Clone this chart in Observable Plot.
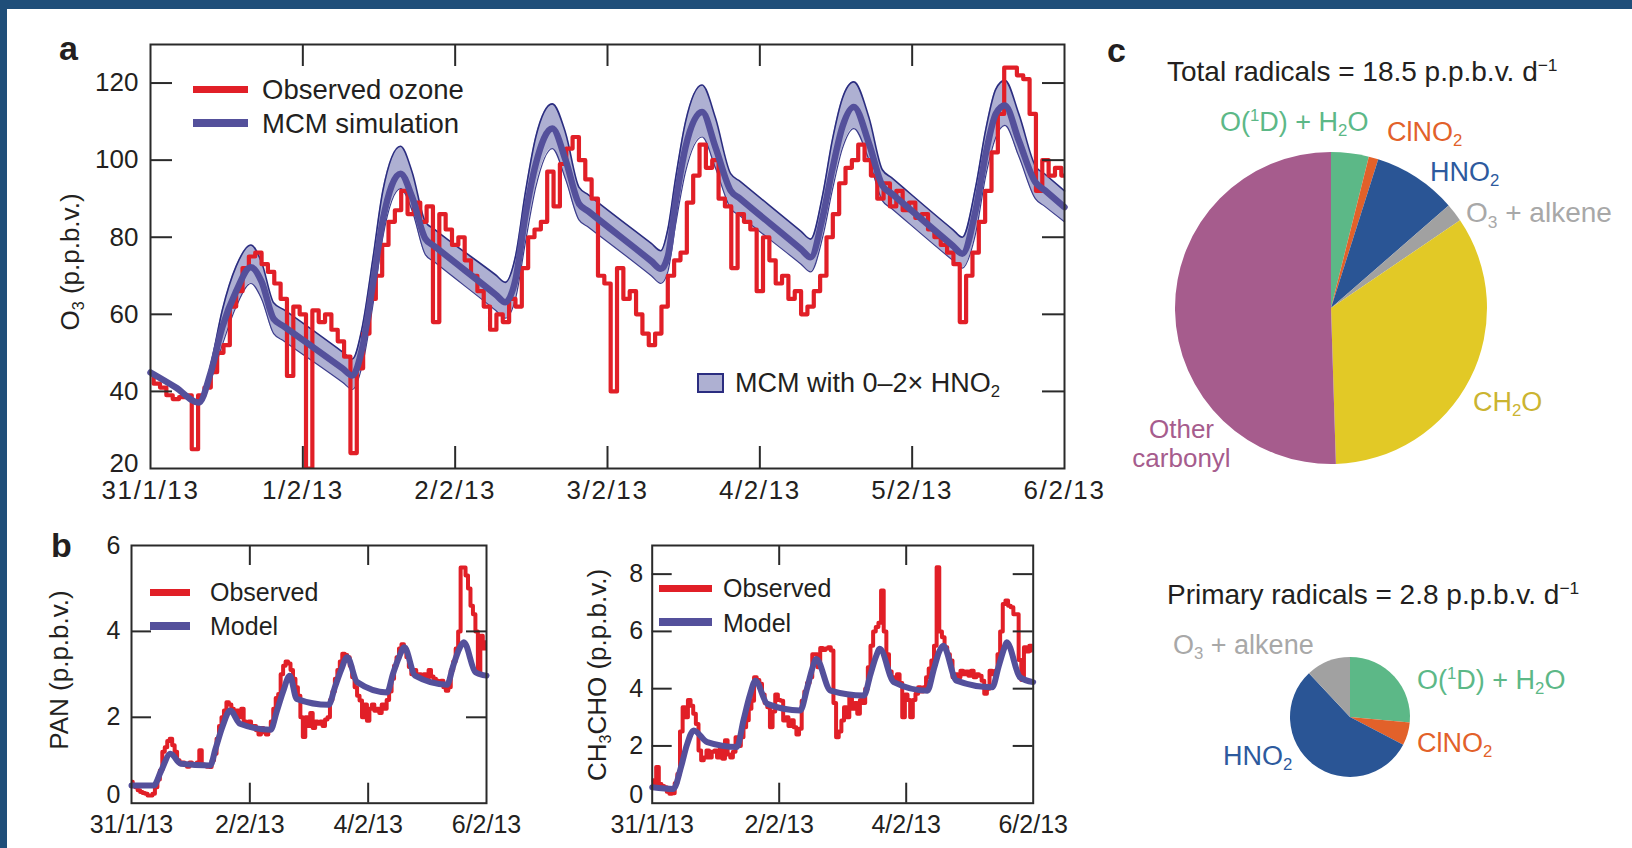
<!DOCTYPE html>
<html><head><meta charset="utf-8">
<script src="https://cdn.jsdelivr.net/npm/d3@7"></script>
<script src="https://cdn.jsdelivr.net/npm/@observablehq/plot@0.6"></script>
<style>
html,body{margin:0;padding:0;background:#fff;}
#fig{position:relative;width:1632px;height:848px;overflow:hidden;background:#fff;font-family:"Liberation Sans",Arial,Helvetica,sans-serif;color:#231f20;}
.lbl{position:absolute;white-space:nowrap;line-height:1;}
.lbl sub,.lbl sup{font-size:0.62em;position:relative;vertical-align:baseline;line-height:0;}
.lbl sub{top:0.3em;}
.lbl sup{top:-0.6em;}
.box{position:absolute;}
</style></head><body><div id="fig"></div><script>
// ---------------- DATA ----------------
// Panel a: x in hours since 31/1/13 00:00
const xTicksA = [0, 24, 48, 72, 96, 120, 144];
const xLabelsA = ["31/1/13", "1/2/13", "2/2/13", "3/2/13", "4/2/13", "5/2/13", "6/2/13"];
const yTicksA = [20, 40, 60, 80, 100, 120];

// Observed ozone, hourly (p.p.b.v.)
const obsO3 = [44.5,42,41,39,38,38.5,39,25,39,41,
  45,50,52,62,66,72,75,76,73,71,
  68,64,44,62,60,20,61,58,60,56,
  53,49,24,46,55,64,70,78,84,87,
  92,86,89,84,88,58,86,82,78,80,
  74,70,66,62,56,60,58,64,62,72,
  80,82,84,97,88,99,103,106,100,95,
  90,70,68,40,72,64,66,60,55,52,
  55,62,70,74,76,89,96,104,98,100,
  90,88,72,86,84,82,66,80,74,68,
  70,64,66,60,62,66,70,80,86,94,
  98,100,104,100,96,90,94,88,92,87,
  89,85,86,82,80,78,76,73,58,70,
  76,84,92,102,112,124,124,122,121,112,
  92,100,96,98,96];

// MCM simulation (central) and 0-2x HNO2 envelope
const mcmTimes = [0,4,7.6,9.5,11.3,13.5,15.8,17.5,19.4,21,30.3,31.8,33.4,35,36.6,39.4,41.2,43.3,44.8,54.4,55.9,57.5,59.1,60.7,63.3,65.4,67.5,69,78.9,80.4,81.5,82.7,84.3,86.9,89,91.4,92.9,102.5,104,105.9,107.4,109,110.8,113.2,115.3,116.8,126.4,127.9,130,131.6,133.2,134.6,136.8,139.4,140.9,144];
const mcmO3   = [44.9,41,37.1,45,56.6,66,72.2,68.5,58.8,56.9,45.9,44.1,51.6,67.5,84.5,96.5,90.5,79.6,77.6,65.1,63.1,69,86,99,108.2,100,88.7,86.7,73.8,71.8,75,88.7,103.4,112.5,103.4,92.1,90.0,76.9,74.8,85.2,97.4,108.6,113.8,104.3,93.4,91.3,77.8,75.7,87,101.7,112.1,114.2,105.1,94.3,92.2,87.8];
const mcmHigh = [44.9,41,37.1,47,61,72.5,78,73.5,63,61.2,50.2,48.4,57,74,92,103.6,97,84,82,70.2,68.3,75,92,106,114.6,107,93,91,78.4,76.5,82,95,110,119.5,111,96.5,94.5,81.5,79.5,91,105,116,120.3,111,97.5,95.4,82,80,93,108,118.5,120.7,112,98.5,96.4,92];
const mcmLow  = [44.9,41,37.1,43,52,62,68,64,55,53.1,42.3,40.5,47,62,80,92.6,87,75.5,73.5,61,59,64,79,93,103,95,84.5,82.6,70,68,71,83,97,106,98,87.5,85.5,73,71,80,92,103,108.2,100,89.5,87.4,74,72,81,96,106,109,101,90,88,84];

// Panel b
const xTicksB = [0, 48, 96, 144];
const xLabelsB = ["31/1/13", "2/2/13", "4/2/13", "6/2/13"];
const yTicksPAN = [0, 2, 4, 6];
const yTicksAcet = [0, 2, 4, 6, 8];

const obsPAN = [0.5,0.42,0.37,0.3,0.26,0.24,0.22,0.18,0.18,0.22,
  0.37,0.55,0.76,1.2,1.3,1.45,1.5,1.35,1.2,1.0,
  0.92,0.95,0.9,0.85,0.95,0.9,0.88,0.95,1.23,0.9,
  0.88,0.85,0.84,1.0,1.15,1.5,1.8,2.0,2.16,2.35,
  2.3,2.2,2.1,2.16,2.0,2.2,1.9,1.85,1.9,1.75,
  1.8,1.7,1.6,1.75,1.65,1.6,1.7,1.9,2.2,2.45,
  2.54,3.0,3.2,3.3,3.25,3.1,2.9,2.7,2.5,2.0,
  1.54,2.0,1.8,2.1,1.75,1.9,1.85,1.9,1.8,1.95,
  2.0,2.4,2.6,2.9,3.1,3.3,3.48,3.45,3.4,3.2,
  2.93,2.7,2.5,2.39,2.0,2.3,1.92,2.2,2.3,2.15,
  2.2,2.1,2.3,2.2,2.4,2.6,2.9,3.2,3.4,3.6,
  3.7,3.6,3.4,3.17,3.0,3.1,2.95,3.0,2.93,3.0,
  2.9,3.1,2.95,2.9,2.85,2.8,2.85,2.7,2.62,2.7,
  3.1,3.3,3.6,4.0,5.49,5.49,5.3,5.0,4.6,4.4,
  4.0,3.0,3.9,3.6,3.75];
const modelPANTimes = [0,9,12,15.8,20,32,34,37,40,44,56.4,59,61.5,64.2,67,80,82.5,85,87.5,91.5,103.7,106,108.5,110.7,115,128,130.5,133,134.8,139.5,144];
const modelPAN = [0.41,0.41,0.75,1.15,0.92,0.88,1.25,1.8,2.16,1.85,1.71,2.15,2.6,2.97,2.43,2.29,2.7,3.1,3.4,2.82,2.58,3.0,3.4,3.63,2.97,2.76,3.2,3.6,3.75,3.05,2.97];

const obsAcet = [0.8,0.7,1.26,0.67,0.6,0.56,0.4,0.33,0.35,0.7,
  1.02,2.5,3.35,3.0,3.6,3.4,3.12,2.77,1.84,1.5,
  1.6,1.84,1.6,1.8,1.84,1.6,1.9,1.55,2.2,1.7,
  1.6,1.8,2.3,2.0,2.3,2.65,2.9,3.3,3.58,4.4,
  4.3,4.17,3.8,3.5,3.35,2.65,3.2,3.8,3.6,3.58,
  2.89,3.0,2.7,2.9,2.65,2.4,2.6,3.58,3.9,4.2,
  4.4,5.2,5.2,4.75,5.42,5.35,5.4,5.45,5.33,3.5,
  2.3,2.5,2.89,3.35,3.0,3.8,3.3,3.5,3.12,3.6,
  3.5,4.0,4.75,5.5,6.0,6.15,6.3,7.43,6.0,5.2,
  4.6,4.4,4.2,4.5,4.2,3.0,3.8,3.6,3.0,3.6,
  3.82,4.05,3.9,4.05,4.4,4.7,4.98,5.5,8.24,6.0,
  5.8,5.45,5.2,4.98,4.4,4.5,4.4,4.63,4.5,4.6,
  4.45,4.63,4.4,4.5,4.45,4.28,3.82,4.0,4.63,4.5,
  4.63,5.2,6.0,6.96,7.08,6.9,6.84,6.6,6.6,5.0,
  4.3,5.45,5.3,5.5,5.33];
const modelAcetTimes = [0,8,11,13,15.7,20.8,32,34.5,37,39,43.5,56,58.5,60.5,62,67.4,80,82.5,84.5,86,91.3,104,106.5,108.5,110,115,128.5,131,133,134,139,144];
const modelAcet = [0.56,0.5,1.3,2.0,2.54,2.13,1.96,2.9,3.8,4.28,3.47,3.24,4.0,4.7,5.04,3.93,3.76,4.5,5.1,5.39,4.23,3.93,4.7,5.3,5.5,4.28,4.05,4.8,5.4,5.62,4.4,4.23];

// Panel c (% of radical production, clockwise from 12 o'clock)
const totalSources = ["O(1D) + H2O", "ClNO2", "HNO2", "O3 + alkene", "CH2O", "Other carbonyl"];
const totalShares  = [3.9, 1.0, 8.7, 1.9, 34.0, 50.5];
const totalColors  = ["#5cb887", "#e2612a", "#2a5595", "#a1a1a1", "#e2c926", "#a65c8d"];
const primarySources = ["O(1D) + H2O", "ClNO2", "HNO2", "O3 + alkene"];
const primaryShares  = [26.5, 6.2, 55.4, 12.0];
const primaryColors  = ["#5cb887", "#e2612a", "#2a5595", "#a1a1a1"];

// ---------------- STYLE ----------------
const FONT = '"Liberation Sans", Arial, Helvetica, sans-serif';
const INK = "#231f20";
const AXIS = "#2a2a2a";
const RED = "#e11f27";
const BLUE = "#54509b";
const BAND = "#aeb0d2";
const NAVY = "#2b2d80";
const fig = document.getElementById("fig");

function box(left, top, w, h, bg, border) {
  const d = document.createElement("div");
  d.className = "box";
  Object.assign(d.style, {left: left + "px", top: top + "px", width: w + "px", height: h + "px", background: bg, boxSizing: "border-box"});
  if (border) d.style.border = border;
  fig.appendChild(d);
}
// places text so that its first baseline lies at `baseline`
function label(html, x, baseline, size, color = INK, anchor = "start", weight = "normal", lineHeight = size) {
  const d = document.createElement("div");
  d.className = "lbl";
  d.innerHTML = html;
  const top = baseline - ((lineHeight - 1.117 * size) / 2 + 0.905 * size);
  Object.assign(d.style, {left: x + "px", top: top + "px", fontSize: size + "px", lineHeight: lineHeight + "px", color, fontWeight: weight});
  if (anchor === "middle") { d.style.transform = "translateX(-50%)"; d.style.textAlign = "center"; }
  if (anchor === "end") { d.style.transform = "translateX(-100%)"; d.style.textAlign = "right"; }
  fig.appendChild(d);
}
function vlabel(html, cx, cy, size) {
  const d = document.createElement("div");
  d.className = "lbl";
  d.innerHTML = html;
  Object.assign(d.style, {left: cx + "px", top: cy + "px", fontSize: size + "px", color: INK, transform: "translate(-50%,-50%) rotate(-90deg)"});
  fig.appendChild(d);
}

// blue frame of the figure
box(0, 0, 1632, 9, "#1f4e79");
box(0, 0, 7, 848, "#1f4e79");

function seriesPlot(o) {
  const fw = o.width - o.ml - o.mr, fh = o.height - o.mt - o.mb;
  const ts = {stroke: AXIS, strokeWidth: 2};
  const p = Plot.plot({
    width: o.width, height: o.height,
    marginTop: o.mt, marginRight: o.mr, marginBottom: o.mb, marginLeft: o.ml,
    style: {fontFamily: FONT, fontSize: o.fontSize + "px", color: INK, background: "transparent", overflow: "visible"},
    x: {domain: [0, 144], ticks: o.xTicks, tickFormat: d => o.xLabels[o.xTicks.indexOf(d)], tickSize: 0, tickPadding: o.padX, label: null},
    y: {domain: o.yDomain, ticks: o.yTicks, tickFormat: d => String(d), tickSize: 0, tickPadding: o.padY, label: null},
    marks: [
      ...o.marks,
      Plot.tickX(o.innerX, {x: d => d, insetTop: fh - o.tickLen, ...ts}),
      Plot.tickX(o.innerX, {x: d => d, insetBottom: fh - o.tickLen, ...ts}),
      Plot.tickY(o.innerY, {y: d => d, insetRight: fw - o.tickLen, ...ts}),
      Plot.tickY(o.innerY, {y: d => d, insetLeft: fw - o.tickLen, ...ts}),
      Plot.frame({stroke: AXIS, strokeWidth: 2})
    ]
  });
  if (o.xSpacing) {
    p.querySelectorAll('[aria-label^="x-axis"] text').forEach(t => { t.style.letterSpacing = o.xSpacing + "px"; });
  }
  // the lowest y tick label sits slightly raised, as in the original figure
  const bottomLabel = String(o.yDomain[0]);
  p.querySelectorAll('[aria-label^="y-axis"] text').forEach(t => {
    if (t.textContent !== bottomLabel) return;
    const cur = t.getAttribute("dy");
    if (cur && cur.includes("em")) t.setAttribute("dy", String(parseFloat(cur) * o.fontSize - o.raise));
    else t.setAttribute("dy", String((parseFloat(cur) || 0) - o.raise));
  });
  Object.assign(p.style, {position: "absolute", left: o.left + "px", top: o.top + "px"});
  fig.appendChild(p);
}

// ---------------- PANEL a ----------------
const o3Obs = obsO3.map((v, i) => ({t: i, v}));
const o3Mcm = mcmTimes.map((t, i) => ({t, v: mcmO3[i], hi: mcmHigh[i], lo: mcmLow[i]}));
seriesPlot({
  left: 0, top: 0, width: 1100, height: 520, mt: 44, mr: 36, mb: 52, ml: 150,
  yDomain: [20, 130], xTicks: xTicksA, xLabels: xLabelsA, yTicks: yTicksA,
  innerX: [24, 48, 72, 96, 120], innerY: [40, 60, 80, 100, 120], tickLen: 22,
  fontSize: 26, xSpacing: 1.6, padX: 12, padY: 12, raise: 5,
  marks: [
    Plot.areaY(o3Mcm, {x: "t", y1: "lo", y2: "hi", fill: BAND, curve: "monotone-x"}),
    Plot.line(o3Mcm, {x: "t", y: "hi", stroke: NAVY, strokeWidth: 1.6, curve: "monotone-x"}),
    Plot.line(o3Mcm, {x: "t", y: "lo", stroke: "#3c3d8c", strokeWidth: 1.2, curve: "monotone-x"}),
    Plot.line(o3Obs, {x: "t", y: "v", stroke: RED, strokeWidth: 4.2, curve: "step", clip: true}),
    Plot.line(o3Mcm, {x: "t", y: "v", stroke: BLUE, strokeWidth: 6.5, curve: "monotone-x"})
  ]
});
label("a", 59, 60, 34, INK, "start", "bold");
vlabel("O<sub>3</sub> (p.p.b.v.)", 70, 262, 26);
box(193, 85.5, 55, 7, RED);
box(193, 119, 55, 8, BLUE);
label("Observed ozone", 262, 99, 27.5);
label("MCM simulation", 262, 133, 27.5);
box(697, 373, 27, 20, BAND, "2px solid " + NAVY);
label("MCM with 0–2× HNO<sub>2</sub>", 735, 393, 27);

// ---------------- PANEL b ----------------
seriesPlot({
  left: 0, top: 500, width: 520, height: 348, mt: 45, mr: 34, mb: 45.3, ml: 131,
  yDomain: [0, 6], xTicks: xTicksB, xLabels: xLabelsB, yTicks: yTicksPAN,
  innerX: [48, 96], innerY: [2, 4], tickLen: 20,
  fontSize: 25, padX: 12, padY: 11, raise: 8,
  marks: [
    Plot.line(obsPAN.map((v, i) => ({t: i, v})), {x: "t", y: "v", stroke: RED, strokeWidth: 4, curve: "step", clip: true}),
    Plot.line(modelPANTimes.map((t, i) => ({t, v: modelPAN[i]})), {x: "t", y: "v", stroke: BLUE, strokeWidth: 6, curve: "monotone-x"})
  ]
});
seriesPlot({
  left: 540, top: 500, width: 520, height: 348, mt: 45, mr: 27.3, mb: 45.3, ml: 111.7,
  yDomain: [0, 9], xTicks: xTicksB, xLabels: xLabelsB, yTicks: yTicksAcet,
  innerX: [48, 96], innerY: [2, 4, 6, 8], tickLen: 20,
  fontSize: 25, padX: 12, padY: 9, raise: 8,
  marks: [
    Plot.line(obsAcet.map((v, i) => ({t: i, v})), {x: "t", y: "v", stroke: RED, strokeWidth: 4, curve: "step", clip: true}),
    Plot.line(modelAcetTimes.map((t, i) => ({t, v: modelAcet[i]})), {x: "t", y: "v", stroke: BLUE, strokeWidth: 6, curve: "monotone-x"})
  ]
});
label("b", 51, 557, 34, INK, "start", "bold");
vlabel("PAN (p.p.b.v.)", 58.5, 670, 26);
vlabel("CH<sub>3</sub>CHO (p.p.b.v.)", 597, 675, 26);
box(150, 588.5, 40, 7, RED);
box(150, 622, 40, 8, BLUE);
label("Observed", 210, 601, 25);
label("Model", 210, 635, 25);
box(659, 584.5, 53, 7, RED);
box(659, 617.7, 53, 8, BLUE);
label("Observed", 723, 597, 25);
label("Model", 723, 632, 25);

// ---------------- PANEL c ----------------
function piePlot(left, top, size, shares, colors) {
  const m = 5;
  const p = Plot.plot({
    width: size, height: size, margin: m,
    x: {domain: [-1, 1], axis: null}, y: {domain: [-1, 1], axis: null},
    style: {background: "transparent", overflow: "visible"},
    marks: [
      Plot.dot([[-1, -1], [1, 1]], {x: d => d[0], y: d => d[1], r: 0}),
      (index, scales) => {
        const cx = scales.x(0), cy = scales.y(0), r = scales.x(1) - scales.x(0);
        const arcs = d3.pie().sort(null).value(d => d)(shares);
        const arc = d3.arc().innerRadius(0).outerRadius(r);
        const g = d3.create("svg:g").attr("transform", `translate(${cx},${cy})`);
        g.selectAll("path").data(arcs).join("path").attr("d", arc).attr("fill", (d, i) => colors[i]);
        return g.node();
      }
    ]
  });
  Object.assign(p.style, {position: "absolute", left: left + "px", top: top + "px"});
  fig.appendChild(p);
}
piePlot(1170, 147.3, 322, totalShares, totalColors);
piePlot(1285, 651.7, 130, primaryShares, primaryColors);

label("c", 1107, 62, 34, INK, "start", "bold");
label("Total radicals = 18.5 p.p.b.v. d<sup>−1</sup>", 1167, 82, 28);
label("O(<sup>1</sup>D) + H<sub>2</sub>O", 1220, 132, 27, "#5cb887");
label("ClNO<sub>2</sub>", 1387, 142, 27, "#e2612a");
label("HNO<sub>2</sub>", 1430, 182, 27, "#2d5a9e");
label("O<sub>3</sub> + alkene", 1466, 223, 28, "#a8a8a8");
label("CH<sub>2</sub>O", 1473, 412, 27, "#cbb431");
label("Other<br>carbonyl", 1181.5, 438.5, 26, "#a65c8d", "middle", "normal", 29.6);

label("Primary radicals = 2.8 p.p.b.v. d<sup>−1</sup>", 1167, 605, 28);
label("O<sub>3</sub> + alkene", 1173, 655, 27, "#a8a8a8");
label("O(<sup>1</sup>D) + H<sub>2</sub>O", 1417, 690, 27, "#5cb887");
label("ClNO<sub>2</sub>", 1417, 753, 27, "#e2612a");
label("HNO<sub>2</sub>", 1223, 766, 27, "#2d5a9e");
</script></body></html>
